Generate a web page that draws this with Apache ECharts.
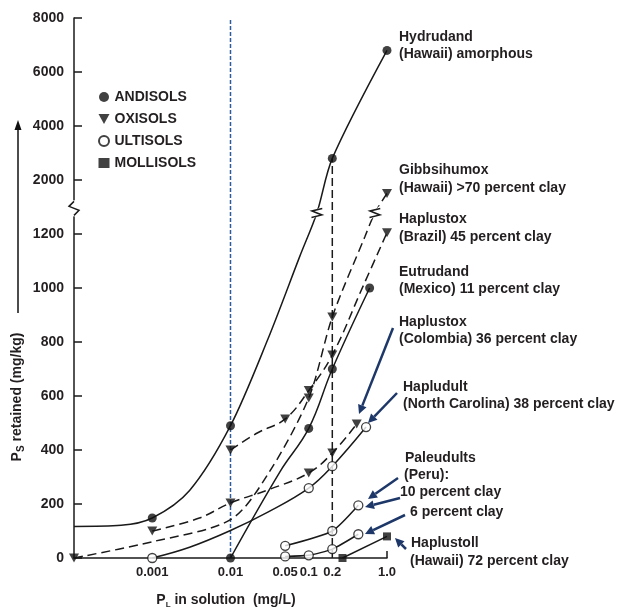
<!DOCTYPE html>
<html><head><meta charset="utf-8">
<script src="https://cdn.jsdelivr.net/npm/echarts@6/dist/echarts.min.js"></script>
<style>html,body{margin:0;padding:0;background:#fff}#c{width:621px;height:609px}</style>
</head><body><div id="c"></div>
<script>
// ---------- axis ticks ----------
const xTicks = [0.001, 0.01, 0.05, 0.1, 0.2, 1.0];
const xTickLabels = ['0.001', '0.01', '0.05', '0.1', '0.2', '1.0'];
const yTicks = [0, 200, 400, 600, 800, 1000, 1200, 2000, 4000, 6000, 8000];

// ---------- curve traces (P in solution mg/L, P retained mg/kg) ----------
const hydrudandCurveX = [0, 0.0004, 0.001, 0.003, 0.01, 0.03, 0.077, 0.127, 0.2, 1.0];
const hydrudandCurveY = [117, 121, 148, 250, 490, 810, 1118, 1356, 2800, 6800];
const eutrudandCurveX = [0.01, 0.043, 0.1, 0.2, 0.6];
const eutrudandCurveY = [0, 320, 480, 700, 1000];
const gibbsihumoxCurveX = [0, 0.001, 0.01, 0.03, 0.1, 0.2, 0.52, 0.7, 1.0];
const gibbsihumoxCurveY = [0, 60, 142, 310, 593, 893, 1189, 1356, 1500];
const brazilCurveX = [0.01, 0.022, 0.05, 0.1, 0.2, 0.49, 1.0];
const brazilCurveY = [400, 463, 515, 620, 752, 1004, 1210];
const colombiaCurveX = [0.001, 0.004, 0.01, 0.03, 0.1, 0.2, 0.41];
const colombiaCurveY = [100, 148, 204, 252, 315, 389, 496];
const hapludultCurveX = [0.001, 0.003, 0.01, 0.03, 0.1, 0.2, 0.54];
const hapludultCurveY = [0, 40, 102, 170, 259, 340, 485];
const paleudult10X = [0.05, 0.2, 0.43];
const paleudult10Y = [45, 100, 195];
const paleudult6X = [0.05, 0.1, 0.2, 0.43];
const paleudult6Y = [6, 10, 33, 88];
const haplustollX = [0.27, 1.0];
const haplustollY = [0, 80];

// ---------- measured points ----------
const hydrudandPtX = [0.001, 0.01, 0.2, 1.0];
const hydrudandPtY = [148, 490, 2800, 6800];
const eutrudandPtX = [0.01, 0.1, 0.2, 0.6];
const eutrudandPtY = [0, 480, 700, 1000];
const gibbsihumoxPtX = [0, 0.1, 0.2, 1.0];
const gibbsihumoxPtY = [0, 593, 893, 1500];
const brazilPtX = [0.01, 0.05, 0.1, 0.2, 1.0];
const brazilPtY = [400, 515, 620, 752, 1210];
const colombiaPtX = [0.001, 0.01, 0.1, 0.2, 0.41];
const colombiaPtY = [100, 204, 315, 389, 496];
const hapludultPtX = [0.001, 0.1, 0.2, 0.54];
const hapludultPtY = [0, 259, 340, 485];

// reference verticals
const refLineBlueX = 0.01;
const refLineBlackX = 0.2, refLineBlackTop = 2800;
// breaks on curves (x, y)
const curveBreaksX = [0.127, 0.7];
const curveBreaksY = [1356, 1356];
const axisBreakY = 1390;

// ---------- scale helpers ----------
function tx(x) { return x > 0 ? Math.log10(x) : -4; }
function ty(v) { if (v <= 1200) return v; if (v <= 1500) return 1200 + (v - 1200) / 2; return 1400 + (v - 2000) / 10; }
function inv(d) { if (d <= 1200) return d; if (d <= 1350) return 1200 + (d - 1200) * 2; return 2000 + (d - 1400) * 10; }
function pts(xs, ys) { return xs.map((x, i) => [tx(x), ty(ys[i])]); }

const FONT = 'Liberation Sans, Arial, Helvetica, sans-serif';
const INK = '#231f20';
const NAVY = '#1d3768';

function curve(xs, ys, dashed, sm) {
  return { type: 'line', data: pts(xs, ys), smooth: sm == null ? 0.4 : sm, symbol: 'none', silent: true, z: 2,
    lineStyle: { color: '#1a1a1a', width: 1.5, type: dashed ? [9, 5] : 'solid' } };
}

const series = [
  curve(hydrudandCurveX, hydrudandCurveY, false, 0.3),
  curve(eutrudandCurveX, eutrudandCurveY, false),
  curve(gibbsihumoxCurveX, gibbsihumoxCurveY, true, 0.3),
  curve(brazilCurveX, brazilCurveY, true),
  curve(colombiaCurveX, colombiaCurveY, true),
  curve(hapludultCurveX, hapludultCurveY, false),
  curve(paleudult10X, paleudult10Y, false, 0.2),
  curve(paleudult6X, paleudult6Y, false, 0.2),
  curve(haplustollX, haplustollY, false, 0),
  { type: 'line', data: [[tx(refLineBlueX), 0], [tx(refLineBlueX), 2000]], symbol: 'none', silent: true, z: 1,
    lineStyle: { color: '#2f5b9a', width: 1.5, type: [4, 2] } },
  { type: 'line', data: [[tx(refLineBlackX), 0], [tx(refLineBlackX), ty(refLineBlackTop)]], symbol: 'none', silent: true, z: 1,
    lineStyle: { color: '#1a1a1a', width: 1.5, type: [8, 4] } },
  { name: 'ANDISOLS', type: 'scatter', symbol: 'circle', symbolSize: 9, z: 5,
    itemStyle: { color: '#111' },
    data: pts(hydrudandPtX, hydrudandPtY).concat(pts(eutrudandPtX, eutrudandPtY)) },
  { name: 'OXISOLS', type: 'scatter', symbol: 'path://M0,0L10,0L5,9Z', symbolSize: [10, 9], z: 5,
    itemStyle: { color: '#111' },
    data: pts(gibbsihumoxPtX, gibbsihumoxPtY).concat(pts(brazilPtX, brazilPtY), pts(colombiaPtX, colombiaPtY)) },
  { name: 'ULTISOLS', type: 'scatter', symbol: 'circle', symbolSize: 9, z: 5,
    itemStyle: { color: '#fff', borderColor: '#111', borderWidth: 1.3 },
    data: pts(hapludultPtX, hapludultPtY).concat(pts(paleudult10X, paleudult10Y), pts(paleudult6X, paleudult6Y)) },
  { name: 'MOLLISOLS', type: 'scatter', symbol: 'rect', symbolSize: 8, z: 5,
    itemStyle: { color: '#111' },
    data: pts(haplustollX, haplustollY) }
];

const chart = echarts.init(document.getElementById('c'), null, { renderer: 'canvas' });
const option = {
  animation: false,
  backgroundColor: '#fff',
  textStyle: { fontFamily: FONT },
  grid: { left: 74, right: 234, top: 18, bottom: 51 },
  legend: {
    data: ['ANDISOLS', 'OXISOLS', 'ULTISOLS', 'MOLLISOLS'], orient: 'vertical', left: 93, top: 85,
    itemWidth: 11, itemHeight: 10, itemGap: 8, selectedMode: false,
    textStyle: { fontSize: 14, fontWeight: 'bold', color: INK, fontFamily: FONT }
  },
  xAxis: {
    type: 'value', min: -4, max: 0,
    axisLine: { show: true, onZero: false, lineStyle: { color: '#1a1a1a', width: 1.5 } },
    axisTick: { show: true, inside: true, length: 7, customValues: [0], lineStyle: { color: '#1a1a1a', width: 1.5 } },
    axisLabel: { show: true, hideOverlap: false, customValues: xTicks.map(tx), margin: 8,
      formatter: v => { const i = xTicks.findIndex(t => Math.abs(tx(t) - v) < 1e-6); return i >= 0 ? xTickLabels[i] : ''; },
      fontSize: 13, fontWeight: 'bold', color: INK, fontFamily: FONT },
    splitLine: { show: false }
  },
  yAxis: {
    type: 'value', min: 0, max: 2000,
    axisLine: { show: true, onZero: false, lineStyle: { color: '#1a1a1a', width: 1.5 } },
    axisTick: { show: true, inside: true, length: 8, customValues: yTicks.map(ty), lineStyle: { color: '#1a1a1a', width: 1.5 } },
    axisLabel: { show: true, customValues: yTicks.map(ty), margin: 10,
      formatter: v => String(Math.round(inv(v))),
      fontSize: 14, fontWeight: 'bold', color: INK, fontFamily: FONT },
    splitLine: { show: false }
  },
  series: series
};
chart.setOption(option);

// ---------- annotations ----------
const labels = [
  ['Hydrudand', 399, 37], ['(Hawaii) amorphous', 399, 54],
  ['Gibbsihumox', 399, 170], ['(Hawaii) >70 percent clay', 399, 188],
  ['Haplustox', 399, 219], ['(Brazil) 45 percent clay', 399, 237],
  ['Eutrudand', 399, 272], ['(Mexico) 11 percent clay', 399, 289],
  ['Haplustox', 399, 322], ['(Colombia) 36 percent clay', 399, 339],
  ['Hapludult', 403, 387], ['(North Carolina) 38 percent clay', 403, 404],
  ['Paleudults', 405, 458], ['(Peru):', 404, 475], ['10 percent clay', 400, 492],
  ['6 percent clay', 410, 512],
  ['Haplustoll', 411, 543], ['(Hawaii) 72 percent clay', 410, 561]
];
const arrows = [
  [393, 328, 359, 414], [397, 393, 368, 423], [398, 478, 368, 499],
  [400, 498, 365, 507], [405, 515, 365, 534], [406, 549, 395, 538]
];
const g = [];
labels.forEach(l => g.push({ type: 'text', x: l[1], y: l[2], z: 20,
  style: { text: l[0], fill: INK, font: 'bold 14px ' + FONT, align: 'left', verticalAlign: 'middle' } }));

function arrow(x1, y1, x2, y2) {
  const a = Math.atan2(y2 - y1, x2 - x1), L = 9, W = 4.5;
  const bx = x2 - L * Math.cos(a), by = y2 - L * Math.sin(a);
  g.push({ type: 'line', z: 20, shape: { x1: x1, y1: y1, x2: bx, y2: by }, style: { stroke: NAVY, lineWidth: 2.5 } });
  g.push({ type: 'polygon', z: 20, shape: { points: [[x2, y2], [bx + W * Math.sin(a), by - W * Math.cos(a)], [bx - W * Math.sin(a), by + W * Math.cos(a)]] }, style: { fill: NAVY } });
}
arrows.forEach(a => arrow(a[0], a[1], a[2], a[3]));

function zig(cx, cy, ux, uy) {
  g.push({ type: 'line', z: 15, shape: { x1: cx - 8 * ux, y1: cy - 8 * uy, x2: cx + 8 * ux, y2: cy + 8 * uy }, style: { stroke: '#fff', lineWidth: 5 } });
  g.push({ type: 'polyline', z: 16, shape: { points: [[cx - 7 * ux, cy - 7 * uy], [cx + 5, cy + 2], [cx - 5, cy - 2], [cx + 7 * ux, cy + 7 * uy]] },
    style: { stroke: '#1a1a1a', lineWidth: 1.5, fill: null } });
}
// axis break
const ab = chart.convertToPixel({ gridIndex: 0 }, [-4, ty(axisBreakY)]);
zig(ab[0], ab[1], 0, -1);
// curve breaks
curveBreaksX.forEach((x, i) => {
  const p = chart.convertToPixel({ gridIndex: 0 }, [tx(x), ty(curveBreaksY[i])]);
  const p2 = chart.convertToPixel({ gridIndex: 0 }, [tx(x) + 0.05, ty(curveBreaksY[i]) + 12]);
  let ux = p2[0] - p[0], uy = p2[1] - p[1]; const n = Math.hypot(ux, uy); ux /= n; uy /= n;
  zig(p[0], p[1], ux, uy);
});

// axis titles
g.push({ type: 'text', x: 17, y: 397, rotation: Math.PI / 2, z: 20,
  style: { text: '{a|P}{b|S}{a| retained (mg/kg)}', align: 'center', verticalAlign: 'middle',
    rich: { a: { fontSize: 14, fontWeight: 'bold', fontFamily: FONT, fill: INK, lineHeight: 18 },
            b: { fontSize: 10, fontWeight: 'bold', fontFamily: FONT, fill: INK, lineHeight: 10, verticalAlign: 'bottom' } } } });
g.push({ type: 'text', x: 226, y: 600, z: 20,
  style: { text: '{a|P}{b|L}{a| in solution  (mg/L)}', align: 'center', verticalAlign: 'middle',
    rich: { a: { fontSize: 14, fontWeight: 'bold', fontFamily: FONT, fill: INK, lineHeight: 18 },
            b: { fontSize: 8, fontWeight: 'bold', fontFamily: FONT, fill: INK, lineHeight: 8, verticalAlign: 'bottom' } } } });
// arrow by y title
g.push({ type: 'line', z: 20, shape: { x1: 18, y1: 313, x2: 18, y2: 128 }, style: { stroke: '#111', lineWidth: 1.5 } });
g.push({ type: 'polygon', z: 20, shape: { points: [[18, 120], [14.5, 130], [21.5, 130]] }, style: { fill: '#111' } });

chart.setOption({ graphic: g });
</script>
</body></html>
